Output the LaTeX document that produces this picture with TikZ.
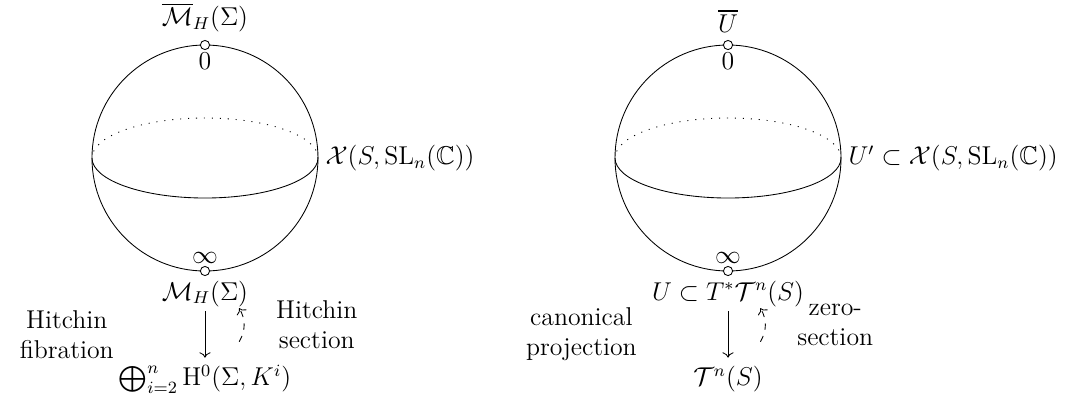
\documentclass[tikz,border=0pt]{standalone}
\usepackage{amsmath,amssymb}
\usetikzlibrary{arrows.meta, positioning}

\begin{document}
\begin{tikzpicture}[
    font=\large,
    pt/.style={circle, draw, fill=white, inner sep=0pt, minimum size=0.15cm},
    lbl/.style={inner sep=2pt},
    row/.style={inner sep=2pt, text height=1.1em, text depth=0.3em},
    side/.style={align=center},
    equat/.style={dash pattern=on 0.5pt off 3.2pt},
    proj/.style={-{To}},
    sec/.style={-{To}, dashed}
]
    \useasboundingbox (-3.356,-4.027) rectangle (14.522,2.587);

    % both spheres, equator dotted at the back
    \foreach \cx/\sph in {0/l, 8.563/r} {
        \draw (\cx,0) circle (1.85);
        \draw (\cx-1.85,0) arc (180:360:1.85 and 0.655);
        \draw[equat] (\cx+1.85,0) arc (0:180:1.85 and 0.655);
        \node[pt] (\sph-top) at (\cx,1.85) {};
        \node[pt] (\sph-bot) at (\cx,-1.85) {};
        \node[lbl, inner sep=1pt, below=0pt of \sph-top] (\sph-zero) {$0$};
        \node[lbl, inner sep=1pt, above=0pt of \sph-bot] (\sph-inf) {$\infty$};
        \coordinate (\sph-east) at (\cx+1.85,0);
    }

    % Hitchin side
    \node[lbl, above=0.05cm of l-top] (l-comp) {$\overline{\mathcal{M}}_H(\Sigma)$};
    \node[anchor=west] (l-char) at (l-east) {$\mathcal{X}(S,\mathrm{SL}_n(\mathbb{C}))$};
    \node[row, below=-2pt of l-bot] (l-higgs) {$\mathcal{M}_H(\Sigma)$};
    \node[row, below=0.76cm of l-higgs] (l-base) {$\bigoplus_{i=2}^n \mathrm{H}^0(\Sigma,K^i)$};

    \draw[proj] (l-higgs) -- node[side, left=1.37cm] (l-fib) {Hitchin\\fibration} (l-base);
    \draw[sec] ([xshift=0.56cm, yshift=0.26cm]l-base.north) to[bend right]
        node[side, right=0.4cm] (l-sec) {Hitchin\\section}
        ([xshift=0.56cm, yshift=0.05cm]l-higgs.south);

    % cotangent side
    \node[lbl, above=0.05cm of r-top] (r-comp) {$\overline{U}$};
    \node[anchor=west] (r-char) at (r-east) {$U'\subset\mathcal{X}(S,\mathrm{SL}_n(\mathbb{C}))$};
    \node[row, below=-2pt of r-bot] (r-cot) {$U\subset T^*\mathcal{T}^n(S)$};
    \node[row, below=0.76cm of r-cot] (r-teich) {$\mathcal{T}^n(S)$};

    \draw[proj] (r-cot) -- node[side, left=1.37cm] (r-proj) {canonical\\projection} (r-teich);
    \draw[sec] ([xshift=0.53cm, yshift=0.26cm]r-teich.north) to[bend right]
        node[side, right=0.4cm] (r-sec) {zero-\\section}
        ([xshift=0.53cm, yshift=0.05cm]r-cot.south);
\end{tikzpicture}
\end{document}
